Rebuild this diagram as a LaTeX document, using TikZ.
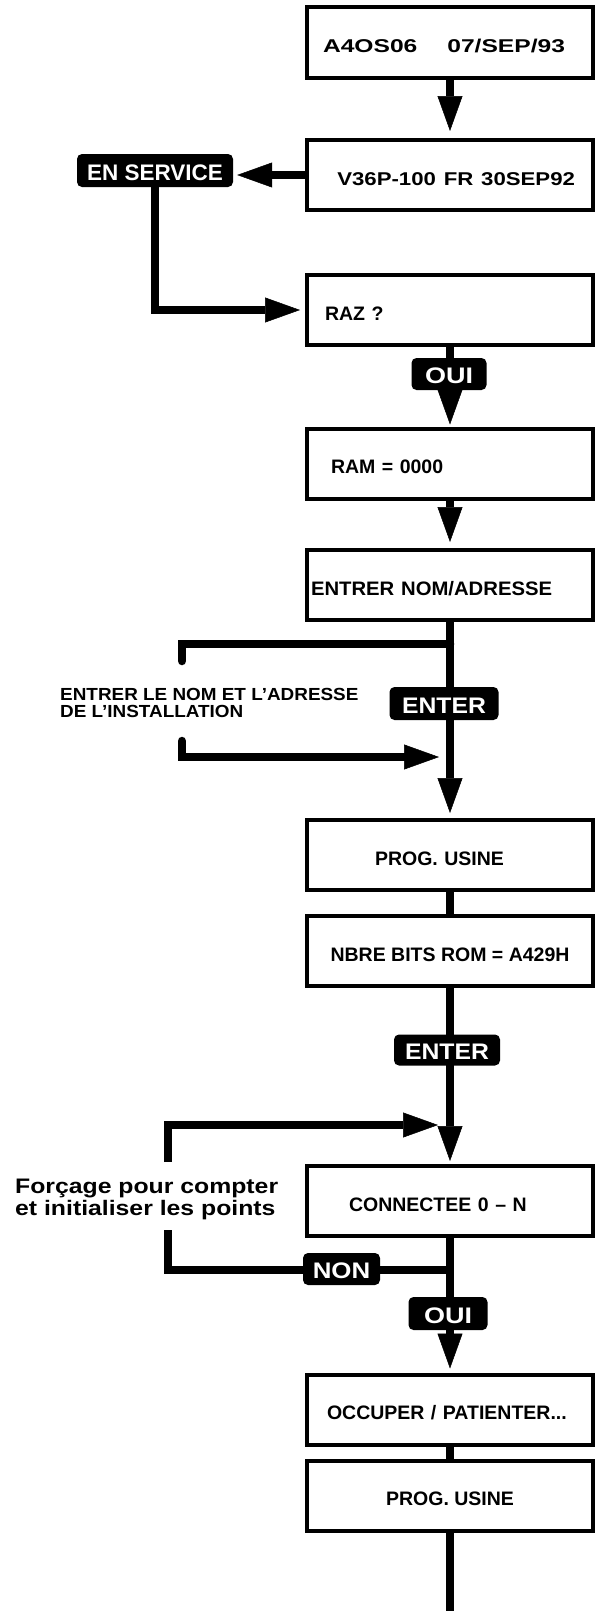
\documentclass[tikz,border=0pt]{standalone}
\usepackage{fontspec}
\setmainfont{Liberation Sans}
\usepackage{graphicx}
\usetikzlibrary{arrows.meta,backgrounds}

\begin{document}
\begin{tikzpicture}[x=1pt,y=-1pt,
  box/.style={draw, line width=4pt, minimum width=286pt, minimum height=70pt,
    inner xsep=2pt, inner ysep=0pt, text height=20pt, text depth=0pt,
    font=\bfseries\fontsize{19.5}{22}\selectfont},
  lt/.style={text width=#1, align=left},
  rt/.style={text width=#1, align=right},
  tag/.style={fill=black, rounded corners=5pt, text=white, inner sep=0pt,
    font=\bfseries\fontsize{22.5}{24}\selectfont, text height=19pt, text depth=0pt},
  note/.style={anchor=base west, inner sep=0pt, font=\bfseries\fontsize{17.5}{18}\selectfont},
  bignote/.style={anchor=base west, inner sep=0pt, font=\bfseries\fontsize{21}{22}\selectfont},
  link/.style={line width=8.5pt},
  arr/.style={link, -{Triangle[length=35pt,width=25pt,line width=0.5pt]}},
]
\useasboundingbox (0,0) rectangle (601,1611);

% display boxes
\node[box, lt=254pt] (b1) at (450,42.5)
  {\fontsize{18.5}{20}\selectfont\scalebox{1.33}[1]{A4OS06}\hspace{30pt}\scalebox{1.33}[1]{07/SEP/93}};
\node[box, rt=250pt] (b2) at (450,175)
  {\fontsize{18.5}{20}\selectfont\scalebox{1.2}[1]{V36P-100 FR 30SEP92}};
\node[box, lt=250pt] (b3) at (450,310) {RAZ ?};
\node[box, lt=238pt] (b4) at (450,463.5) {RAM = 0000};
\node[box, lt=278pt] (b5) at (450,585) {\scalebox{1.04}[1]{ENTRER NOM/ADRESSE}};
\node[box, lt=150pt] (b6) at (450,855) {PROG. USINE};
\node[box] (b7) at (450,951) {NBRE BITS ROM = A429H};
\node[box, lt=202pt] (b8) at (450,1201) {CONNECTEE 0 -- N};
\node[box, lt=246pt] (b9) at (450,1409.5) {OCCUPER / PATIENTER...};
\node[box] (b10) at (450,1495.5) {PROG. USINE};

% key tags
\node[tag, minimum width=156pt, minimum height=33pt] (srv) at (155,170.5) {EN SERVICE};
\node[tag, minimum width=75pt, minimum height=32pt] (oui1) at (449,374) {\scalebox{1.2}[1]{OUI}};
\node[tag, minimum width=109pt, minimum height=33pt] (ent1) at (444,703.5) {\scalebox{1.1}[1]{ENTER}};
\node[tag, minimum width=106pt, minimum height=31pt] (ent2) at (447,1050) {\scalebox{1.1}[1]{ENTER}};
\node[tag, minimum width=77pt, minimum height=32pt] (non) at (341.5,1269) {\scalebox{1.15}[1]{NON}};
\node[tag, minimum width=79pt, minimum height=33pt] (oui2) at (448,1313.5) {\scalebox{1.2}[1]{OUI}};

% side notes
\node[note] (n1a) at (60,700) {\scalebox{1.08}[1]{ENTRER LE NOM ET L'ADRESSE}};
\node[note] (n1b) at (60,717) {\scalebox{1.08}[1]{DE L'INSTALLATION}};
\node[bignote] (n2a) at (15,1193) {\scalebox{1.18}[1]{Forçage pour compter}};
\node[bignote] (n2b) at (15,1215) {\scalebox{1.18}[1]{et initialiser les points}};

% loose ends of the side loops
\coordinate (t1) at (182,661);  \coordinate (c1) at (182,644);
\coordinate (t2) at (182,741);  \coordinate (c2) at (182,757);  \coordinate (h2) at (439,757);
\coordinate (t3) at (168,1162); \coordinate (c3) at (168,1125); \coordinate (h3) at (438,1125);
\coordinate (t4) at (168,1230); \coordinate (c4) at (168,1270);
\coordinate (tail) at (450,1611);

% connectors, all kept on the vertical axis of the boxes
\begin{scope}[on background layer]
  \draw[arr, shorten >=7pt] (b1.south) -- (b2.north);
  \draw[arr, shorten >=4pt] (b2.west) -- (srv.east |- b2.west);
  \draw[arr, shorten >=5pt] (srv.south) |- (b3.west);
  \draw[link] (b3.south) -- (b3.south |- oui1.north);
  \draw[arr, shorten >=2pt] (b4.north |- oui1.south) -- (b4.north);
  \draw[arr, shorten >=6pt] (b4.south) -- (b5.north);
  \draw[arr, shorten >=5pt] (b5.south) -- (b6.north);
  \draw[link, line cap=round] (t1) -- (c1) -- (c1 -| b5.south);
  \draw[arr, line cap=round] (t2) -- (c2) -- (h2);
  \draw[link] (b6.south) -- (b7.north);
  \draw[arr, shorten >=3pt] (b7.south) -- (b8.north);
  \draw[arr] (t3) -- (c3) -- (h3);
  \draw[link] (t4) -- (c4) -- (c4 -| b8.south);
  \draw[link] (b8.south) -- (b8.south |- oui2.north);
  \draw[arr, shorten >=4pt] (b9.north |- oui2.south) -- (b9.north);
  \draw[link] (b9.south) -- (b10.north);
  \draw[link] (b10.south) -- (tail);
\end{scope}
\end{tikzpicture}
\end{document}
